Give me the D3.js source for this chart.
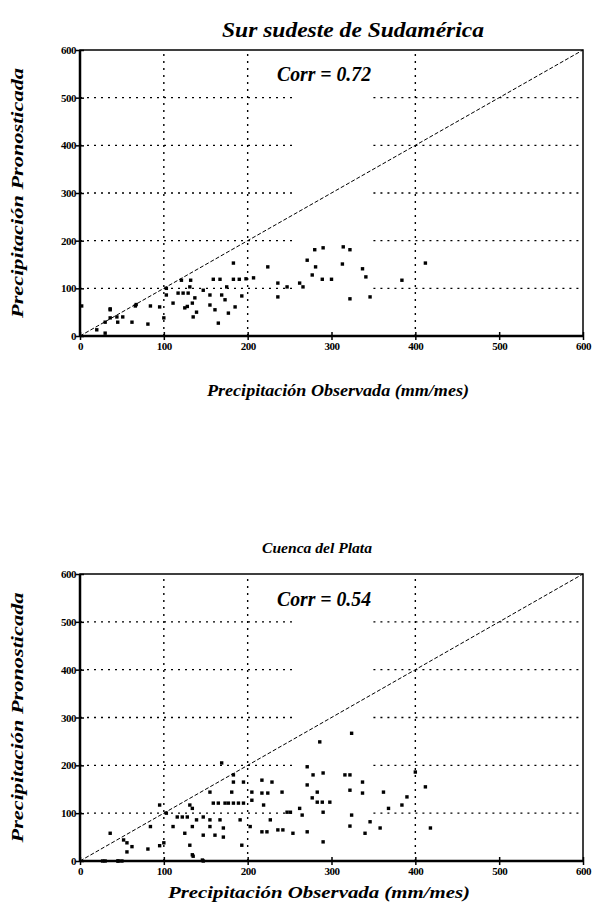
<!DOCTYPE html>
<html>
<head>
<meta charset="utf-8">
<script src="https://cdn.jsdelivr.net/npm/d3@7"></script>
<style>
  body { margin: 0; background: #fff; }
</style>
</head>
<body>
<div id="chart"></div>
<script>
// precipitation values (mm/mes)
var ticks = [0, 100, 200, 300, 400, 500, 600];
var vGrid = [100, 200, 400];
var hGrid = [100, 200, 300, 400, 500];

var obsSur = [2, 36, 66, 67, 84, 95, 81, 62, 51, 36, 45, 100, 103, 103, 111, 121, 132, 117, 123, 129,
  131, 137, 147, 134, 125, 128, 135, 139, 155, 155, 161, 165, 169, 173, 175, 177, 185, 183, 159, 167,
  183, 190, 198, 207, 193, 224, 236, 247, 236, 262, 266, 277, 271, 280, 290, 289, 300, 281, 314, 322,
  313, 322, 337, 341, 346, 384, 412, 20, 30, 36, 44, 30];
var prnSur = [63, 57, 63, 66, 63, 61, 25, 29, 40, 38, 29, 38, 100, 86, 69, 117, 117, 90, 90, 90,
  103, 80, 96, 69, 59, 62, 40, 50, 86, 65, 55, 27, 86, 76, 103, 48, 61, 153, 119, 119,
  119, 119, 120, 122, 84, 145, 111, 103, 82, 111, 103, 128, 159, 181, 185, 119, 119, 145, 187, 181,
  151, 78, 141, 124, 82, 117, 153, 13, 29, 55, 40, 6];

var obsPlata = [27, 45, 50, 36, 52, 56, 62, 56, 81, 84, 95, 100, 95, 103, 111, 116, 122, 128, 134, 131,
  125, 134, 139, 147, 131, 134, 146, 147, 155, 155, 161, 159, 165, 171, 167, 171, 173, 155, 169, 181,
  183, 183, 177, 183, 189, 195, 191, 193, 195, 205, 205, 203, 217, 229, 217, 224, 219, 217, 223, 227,
  236, 242, 241, 247, 251, 254, 262, 265, 271, 271, 271, 278, 277, 283, 283, 290, 298, 290, 290, 289,
  286, 316, 322, 324, 322, 324, 322, 337, 337, 346, 340, 358, 362, 368, 384, 390, 400, 412, 418, 30,
  46, 135, 147];
var prnPlata = [0, 0, 0, 58, 44, 38, 30, 19, 25, 72, 32, 38, 117, 100, 72, 92, 92, 92, 110, 117,
  58, 72, 86, 92, 33, 13, 2, 54, 86, 72, 54, 121, 121, 69, 86, 50, 121, 144, 205, 144,
  165, 180, 121, 121, 121, 121, 86, 33, 165, 144, 127, 72, 169, 165, 142, 142, 117, 61, 61, 86,
  65, 65, 144, 102, 102, 58, 110, 96, 61, 197, 159, 180, 132, 144, 123, 184, 123, 102, 40, 123,
  249, 180, 180, 267, 148, 96, 73, 165, 142, 82, 58, 69, 144, 110, 117, 134, 186, 155, 69, 0,
  0, 10, 0];

var panels = [
  { title: "Sur sudeste de Sudamérica", titleSize: 22, titleLen: 262, titleX: 353, titleY: 37,
    corr: "Corr = 0.72", top: 50, bottom: 336, obs: obsSur, prn: prnSur,
    xLabel: "Precipitación Observada (mm/mes)", xLabelX: 338, xLabelY: 396, xLabelLen: 262,
    yLabel: "Precipitación Pronosticada" },
  { title: "Cuenca del Plata", titleSize: 15, titleLen: 110, titleX: 317, titleY: 553,
    corr: "Corr = 0.54", top: 574, bottom: 861, obs: obsPlata, prn: prnPlata,
    xLabel: "Precipitación Observada  (mm/mes)", xLabelX: 319, xLabelY: 898, xLabelLen: 302,
    yLabel: "Precipitación Pronosticada" }
];

var serif = '"Liberation Serif"';

var svg = d3.select('#chart')
  .append('svg')
  .attr('width', 597)
  .attr('height', 911);

function label(sel, size, len) {
  sel.style('font-family', serif)
    .style('font-size', size + 'px')
    .style('font-style', 'italic')
    .style('font-weight', 'bold')
    .attr('text-anchor', 'middle');
  if (len) sel.attr('textLength', len).attr('lengthAdjust', 'spacingAndGlyphs');
  return sel;
}

panels.forEach(function(p) {
  var x = d3.scaleLinear().domain([0, 600]).range([80, 583]);
  var y = d3.scaleLinear().domain([0, 600]).range([p.bottom, p.top]);
  var g = svg.append('g');

  // dotted grid, horizontal lines break around 300
  hGrid.forEach(function(v) {
    [[0, 255], [350, 600]].forEach(function(seg) {
      g.append('line')
        .attr('x1', x(seg[0])).attr('x2', x(seg[1]))
        .attr('y1', y(v)).attr('y2', y(v))
        .attr('stroke', '#000').attr('stroke-width', 1.4)
        .attr('stroke-dasharray', '2,5');
    });
  });
  vGrid.forEach(function(v) {
    g.append('line')
      .attr('x1', x(v)).attr('x2', x(v))
      .attr('y1', y(0)).attr('y2', y(600))
      .attr('stroke', '#000').attr('stroke-width', 1.4)
      .attr('stroke-dasharray', '2,5');
  });

  // 1:1 line
  g.append('line')
    .attr('x1', x(0)).attr('y1', y(0))
    .attr('x2', x(600)).attr('y2', y(600))
    .attr('stroke', '#000').attr('stroke-width', 1)
    .attr('stroke-dasharray', '4,2');

  // frame
  g.append('rect')
    .attr('x', x(0)).attr('y', y(600))
    .attr('width', x(600) - x(0)).attr('height', y(0) - y(600))
    .attr('fill', 'none').attr('stroke', '#000').attr('stroke-width', 1.5);
  g.append('line').attr('x1', x(0)).attr('x2', x(0)).attr('y1', y(0)).attr('y2', y(600))
    .attr('stroke', '#000').attr('stroke-width', 2.5);
  g.append('line').attr('x1', x(0)).attr('x2', x(600)).attr('y1', y(0)).attr('y2', y(0))
    .attr('stroke', '#000').attr('stroke-width', 2.5);

  // axes with ticks crossing the line
  var xAxis = g.append('g').attr('transform', 'translate(0,' + y(0) + ')')
    .call(d3.axisBottom(x).tickValues(ticks).tickSize(4).tickFormat(d3.format('d')));
  xAxis.selectAll('.tick line').attr('y1', -4).attr('stroke-width', 1.5);
  var yAxis = g.append('g').attr('transform', 'translate(' + x(0) + ',0)')
    .call(d3.axisLeft(y).tickValues(ticks).tickSize(4).tickFormat(d3.format('d')));
  yAxis.selectAll('.tick line').attr('x1', 4).attr('stroke-width', 1.5);
  g.selectAll('.domain').remove();
  g.selectAll('.tick text')
    .style('font-family', serif)
    .style('font-size', '11px')
    .style('font-weight', 'bold')
    .style('letter-spacing', '-0.5px');
  xAxis.selectAll('.tick text').attr('y', 6);
  yAxis.selectAll('.tick text').attr('x', -4);

  // scatter marks
  g.selectAll('.pt')
    .data(d3.zip(p.obs, p.prn))
    .enter()
    .append('rect')
    .attr('class', 'pt')
    .attr('x', function(d) { return x(d[0]) - 1.7; })
    .attr('y', function(d) { return y(d[1]) - 1.7; })
    .attr('width', 3.4).attr('height', 3.4)
    .attr('fill', '#000');

  // texts
  svg.append('text')
    .attr('x', p.titleX).attr('y', p.titleY)
    .call(label, p.titleSize, p.titleLen)
    .text(p.title);

  svg.append('text')
    .attr('x', 324).attr('y', y(534))
    .call(label, 22, 94)
    .text(p.corr);

  svg.append('text')
    .attr('x', p.xLabelX).attr('y', p.xLabelY)
    .call(label, 16, p.xLabelLen)
    .text(p.xLabel);

  svg.append('text')
    .attr('transform', 'translate(23,' + ((p.top + p.bottom) / 2) + ') rotate(-90)')
    .call(label, 16, 250)
    .text(p.yLabel);
});
</script>
</body>
</html>
